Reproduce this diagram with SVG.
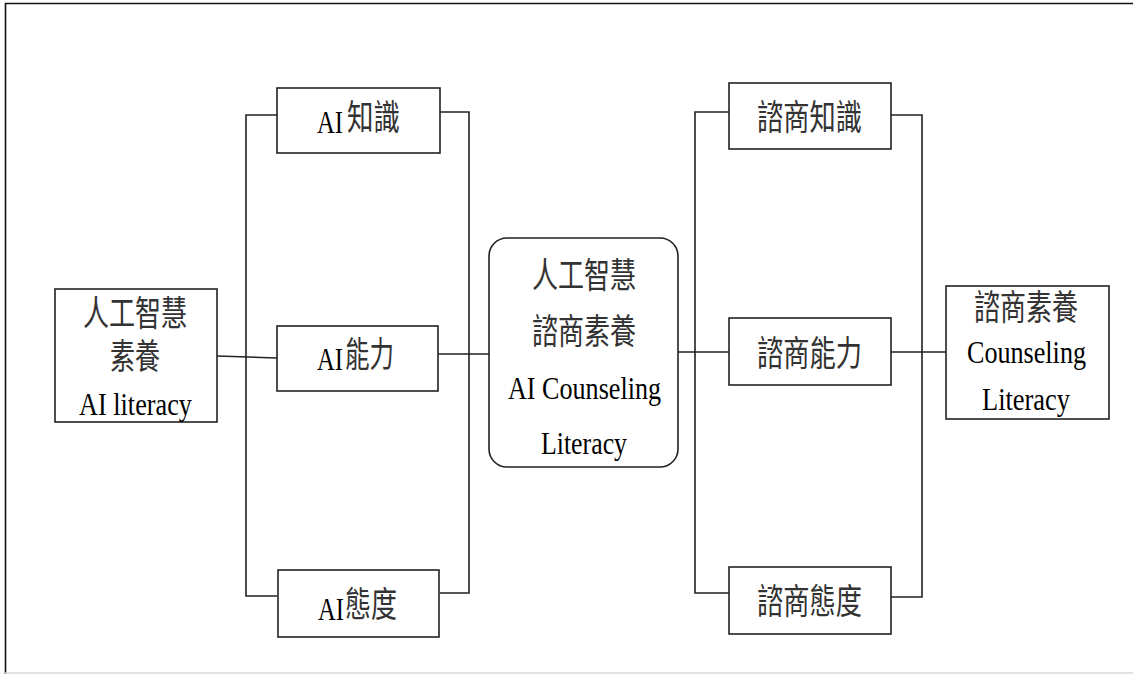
<svg xmlns="http://www.w3.org/2000/svg" width="1133" height="674" viewBox="0 0 1133 674">
<style>
.box{fill:#fff;stroke:#222;stroke-width:1.6}
.ln{fill:none;stroke:#222;stroke-width:1.6}
text{font-family:"Liberation Serif","Noto Sans CJK TC",serif;font-size:32px;fill:#000}
.cjk{fill:#333;font-family:"Noto Sans CJK TC","Noto Sans CJK SC",sans-serif;font-size:35px}
</style>
<rect width="1133" height="674" fill="#fff"/>
<g id="frame">
<path d="M5.5,674 V3.5 H1133" fill="none" stroke="#111" stroke-width="1.6"/>
<path d="M5,673 H1133" fill="none" stroke="#d8d8d8" stroke-width="1.4"/>
</g>
<g id="connectors">
<path class="ln" d="M217,356 L277,358"/>
<path class="ln" d="M277,115 H246 V596 H277"/>
<path class="ln" d="M440,112 H469 V593 H440"/>
<path class="ln" d="M438,354 H489"/>
<path class="ln" d="M678,352 H729"/>
<path class="ln" d="M729,112 H695 V593 H729"/>
<path class="ln" d="M891,115 H922 V597 H891"/>
<path class="ln" d="M891,352 H946"/>
</g>
<g id="n-ai-literacy">
<rect class="box" x="55" y="289" width="162" height="133"/>
<text class="cjk" x="83" y="326" textLength="104" lengthAdjust="spacingAndGlyphs">人工智慧</text>
<text class="cjk" x="110" y="369" textLength="50" lengthAdjust="spacingAndGlyphs">素養</text>
<text x="79" y="415" textLength="113" lengthAdjust="spacingAndGlyphs">AI literacy</text>
</g>
<g id="n-ai-knowledge">
<rect class="box" x="277" y="88" width="163" height="65"/>
<text x="317" y="133" textLength="26" lengthAdjust="spacingAndGlyphs">AI</text>
<text class="cjk" x="347" y="130" textLength="53" lengthAdjust="spacingAndGlyphs">知識</text>
</g>
<g id="n-ai-skill">
<rect class="box" x="277" y="326" width="161" height="65"/>
<text x="317" y="370" textLength="26" lengthAdjust="spacingAndGlyphs">AI</text>
<text class="cjk" x="345" y="367" textLength="49" lengthAdjust="spacingAndGlyphs">能力</text>
</g>
<g id="n-ai-attitude">
<rect class="box" x="278" y="570" width="161" height="67"/>
<text x="318" y="620" textLength="26" lengthAdjust="spacingAndGlyphs">AI</text>
<text class="cjk" x="345" y="617" textLength="52" lengthAdjust="spacingAndGlyphs">態度</text>
</g>
<g id="n-center">
<rect class="box" x="489" y="238" width="189" height="229" rx="18" ry="18"/>
<text class="cjk" x="532" y="288" textLength="104" lengthAdjust="spacingAndGlyphs">人工智慧</text>
<text class="cjk" x="532" y="344" textLength="104" lengthAdjust="spacingAndGlyphs">諮商素養</text>
<text x="508" y="399" textLength="153" lengthAdjust="spacingAndGlyphs">AI Counseling</text>
<text x="541" y="454" textLength="86" lengthAdjust="spacingAndGlyphs">Literacy</text>
</g>
<g id="n-c-knowledge">
<rect class="box" x="729" y="83" width="162" height="66"/>
<text class="cjk" x="757" y="130" textLength="105" lengthAdjust="spacingAndGlyphs">諮商知識</text>
</g>
<g id="n-c-skill">
<rect class="box" x="729" y="318" width="162" height="67"/>
<text class="cjk" x="757" y="366" textLength="105" lengthAdjust="spacingAndGlyphs">諮商能力</text>
</g>
<g id="n-c-attitude">
<rect class="box" x="729" y="567" width="162" height="67"/>
<text class="cjk" x="757" y="614" textLength="105" lengthAdjust="spacingAndGlyphs">諮商態度</text>
</g>
<g id="n-c-literacy">
<rect class="box" x="946" y="286" width="163" height="133"/>
<text class="cjk" x="974" y="320" textLength="104" lengthAdjust="spacingAndGlyphs">諮商素養</text>
<text x="967" y="363" textLength="119" lengthAdjust="spacingAndGlyphs">Counseling</text>
<text x="982" y="410" textLength="88" lengthAdjust="spacingAndGlyphs">Literacy</text>
</g>
</svg>
